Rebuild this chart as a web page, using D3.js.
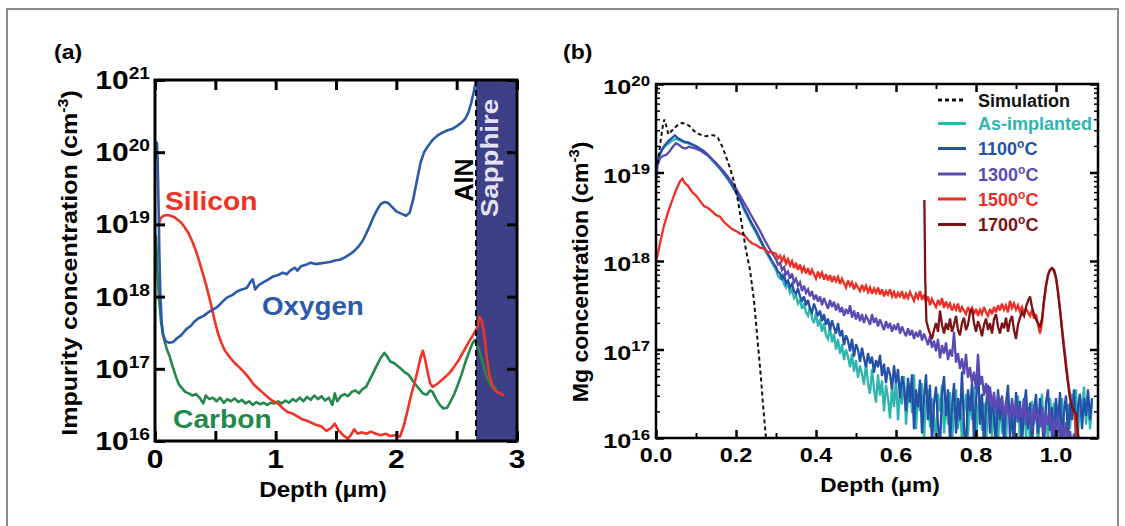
<!DOCTYPE html>
<html>
<head>
<meta charset="utf-8">
<script src="https://cdn.jsdelivr.net/npm/d3@7"></script>
<style>
body{margin:0;background:#fff;}
svg text{font-family:"Liberation Sans",Arial,Helvetica,sans-serif;font-weight:bold;}
</style>
</head>
<body>
<div id="chart"></div>
<script>
// ---- panel (a): [depth um, log10 concentration] ----
var oxygenA = [[0.008,19.9],[0.016,20.13],[0.022,19.9],[0.030,19.2],[0.036,18.6],[0.045,18.0],[0.055,17.65],[0.07,17.45],[0.09,17.38],[0.12,17.36],[0.15,17.37],[0.18,17.42],[0.22,17.47],[0.26,17.55],[0.30,17.6],[0.33,17.66],[0.36,17.7],[0.40,17.73],[0.44,17.78],[0.48,17.82],[0.52,17.86],[0.56,17.93],[0.60,17.99],[0.64,18.02],[0.68,18.07],[0.72,18.1],[0.76,18.12],[0.79,18.2],[0.81,18.24],[0.83,18.1],[0.86,18.16],[0.90,18.2],[0.94,18.24],[0.98,18.28],[1.02,18.3],[1.06,18.33],[1.09,18.31],[1.12,18.36],[1.16,18.4],[1.18,18.36],[1.21,18.42],[1.25,18.44],[1.29,18.47],[1.33,18.45],[1.37,18.46],[1.41,18.47],[1.45,18.48],[1.49,18.5],[1.53,18.51],[1.57,18.54],[1.61,18.58],[1.65,18.63],[1.69,18.7],[1.72,18.77],[1.75,18.87],[1.78,18.98],[1.81,19.1],[1.84,19.2],[1.87,19.28],[1.90,19.31],[1.93,19.3],[1.96,19.25],[2.00,19.18],[2.04,19.15],[2.08,19.12],[2.11,19.16],[2.14,19.35],[2.17,19.6],[2.20,19.85],[2.23,20.0],[2.26,20.08],[2.30,20.17],[2.34,20.23],[2.38,20.27],[2.42,20.3],[2.46,20.32],[2.50,20.36],[2.54,20.41],[2.57,20.46],[2.60,20.56],[2.62,20.68],[2.64,20.82],[2.66,21.0]];
var siliconA = [[0.030,19.0],[0.045,19.08],[0.07,19.12],[0.10,19.13],[0.13,19.12],[0.16,19.1],[0.19,19.06],[0.22,19.02],[0.25,18.95],[0.28,18.87],[0.31,18.76],[0.34,18.63],[0.37,18.47],[0.40,18.3],[0.43,18.12],[0.46,17.92],[0.49,17.7],[0.52,17.5],[0.55,17.36],[0.58,17.25],[0.62,17.16],[0.66,17.08],[0.70,17.02],[0.74,16.95],[0.78,16.87],[0.82,16.78],[0.86,16.72],[0.90,16.66],[0.94,16.6],[0.98,16.55],[1.02,16.52],[1.06,16.45],[1.10,16.4],[1.14,16.38],[1.18,16.34],[1.22,16.3],[1.26,16.28],[1.30,16.25],[1.34,16.22],[1.38,16.2],[1.42,16.14],[1.46,16.18],[1.49,16.24],[1.52,16.15],[1.56,16.08],[1.60,16.03],[1.63,16.1],[1.65,16.16],[1.68,16.1],[1.71,16.12],[1.75,16.1],[1.79,16.13],[1.83,16.1],[1.87,16.08],[1.91,16.1],[1.95,16.07],[1.99,16.08],[2.03,16.06],[2.06,16.2],[2.09,16.4],[2.12,16.62],[2.15,16.8],[2.18,17.0],[2.20,17.15],[2.22,17.25],[2.24,17.12],[2.26,16.95],[2.28,16.8],[2.30,16.75],[2.33,16.78],[2.36,16.82],[2.40,16.88],[2.44,16.94],[2.48,17.03],[2.52,17.13],[2.56,17.25],[2.60,17.37],[2.64,17.48],[2.67,17.57],[2.69,17.72],[2.71,17.65],[2.73,17.45],[2.75,17.15],[2.77,16.92],[2.80,16.75],[2.83,16.68],[2.86,16.66],[2.89,16.63]];
var carbonA = [[0.008,18.85],[0.014,18.6],[0.02,18.35],[0.03,18.05],[0.04,17.85],[0.05,17.65],[0.065,17.48],[0.08,17.38],[0.10,17.26],[0.12,17.18],[0.14,17.06],[0.16,16.96],[0.18,16.86],[0.20,16.78],[0.22,16.74],[0.25,16.68],[0.28,16.66],[0.31,16.63],[0.34,16.65],[0.37,16.6],[0.40,16.52],[0.42,16.63],[0.45,16.58],[0.48,16.6],[0.51,16.55],[0.54,16.6],[0.57,16.53],[0.60,16.58],[0.63,16.55],[0.66,16.59],[0.69,16.54],[0.72,16.57],[0.75,16.52],[0.78,16.55],[0.81,16.5],[0.84,16.54],[0.87,16.51],[0.90,16.53],[0.93,16.5],[0.96,16.53],[0.99,16.52],[1.02,16.55],[1.05,16.52],[1.08,16.56],[1.11,16.53],[1.14,16.58],[1.17,16.55],[1.20,16.6],[1.23,16.55],[1.26,16.61],[1.29,16.57],[1.32,16.63],[1.35,16.58],[1.38,16.62],[1.41,16.56],[1.44,16.6],[1.47,16.5],[1.49,16.66],[1.51,16.55],[1.54,16.62],[1.57,16.65],[1.60,16.62],[1.63,16.68],[1.66,16.7],[1.69,16.66],[1.72,16.72],[1.75,16.75],[1.78,16.85],[1.81,16.95],[1.84,17.05],[1.87,17.15],[1.90,17.22],[1.92,17.18],[1.95,17.1],[1.98,17.08],[2.01,17.04],[2.04,17.0],[2.07,16.95],[2.10,16.92],[2.13,16.85],[2.16,16.78],[2.19,16.72],[2.22,16.66],[2.25,16.64],[2.28,16.7],[2.30,16.68],[2.33,16.58],[2.36,16.5],[2.39,16.45],[2.42,16.46],[2.45,16.55],[2.48,16.65],[2.51,16.78],[2.54,16.92],[2.57,17.08],[2.60,17.22],[2.63,17.35],[2.65,17.4],[2.67,17.33],[2.69,17.25],[2.71,17.12],[2.73,17.0],[2.75,16.88],[2.77,16.82],[2.79,16.76],[2.81,16.72],[2.83,16.74]];
var aInterface = 2.66;          // AlN / sapphire boundary (um)
var aXTicks = [0, 1, 2, 3];
var aXMinor = [0.5, 1.5, 2.5];
var aYDecades = [16, 17, 18, 19, 20, 21];

// ---- panel (b): [depth um, log10 concentration] ----
var simulationB = [[0.004,19.1],[0.010,19.3],[0.016,19.5],[0.021,19.6],[0.026,19.52],[0.031,19.43],[0.037,19.46],[0.045,19.5],[0.055,19.54],[0.065,19.56],[0.075,19.55],[0.085,19.52],[0.095,19.47],[0.105,19.44],[0.115,19.42],[0.125,19.41],[0.135,19.42],[0.145,19.42],[0.155,19.39],[0.165,19.3],[0.175,19.18],[0.185,19.05],[0.195,18.9],[0.205,18.68],[0.215,18.4],[0.225,18.12],[0.235,17.9],[0.245,17.55],[0.255,17.05],[0.262,16.7],[0.268,16.35],[0.275,16.0]];
var asImplB = [[0.000,19.12],[0.008,19.2],[0.016,19.26],[0.024,19.3],[0.032,19.33],[0.040,19.36],[0.050,19.38],[0.060,19.36],[0.070,19.34],[0.080,19.33],[0.090,19.31],[0.100,19.29],[0.110,19.26],[0.120,19.23],[0.130,19.19],[0.140,19.14],[0.150,19.09],[0.160,19.04],[0.170,18.98],[0.180,18.92],[0.190,18.85],[0.200,18.77],[0.210,18.68],[0.220,18.58],[0.230,18.49],[0.240,18.4],[0.250,18.32],[0.260,18.23],[0.270,18.14],[0.280,18.06],[0.290,17.98],
  [0.300,17.90],[0.305,17.83],[0.310,17.80],[0.315,17.84],[0.320,17.74],[0.325,17.70],[0.330,17.76],[0.335,17.64],[0.340,17.68],[0.345,17.58],[0.350,17.62],[0.355,17.52],[0.360,17.56],[0.365,17.46],[0.370,17.52],[0.375,17.42],[0.380,17.38],[0.385,17.48],[0.390,17.35],[0.395,17.30],[0.400,17.42],[0.405,17.26],[0.410,17.34],[0.415,17.20],[0.420,17.30],[0.425,17.16],[0.430,17.12],[0.435,17.25],[0.440,17.08],[0.445,17.18],[0.450,17.00],[0.455,17.12],[0.460,16.95],[0.465,17.06],[0.470,16.88],[0.475,17.00],[0.480,16.92],[0.485,16.80],[0.490,16.95],[0.495,16.75],[0.500,16.88],[0.505,16.68],[0.510,16.82],[0.515,16.72],[0.520,16.60],[0.525,16.85],[0.530,16.62],[0.535,16.50],[0.540,16.78],[0.545,16.55],[0.550,16.40],[0.555,16.72],[0.560,16.48],[0.565,16.65],[0.570,16.30],[0.575,16.60],[0.580,16.45],[0.585,16.22],[0.590,16.58],[0.595,16.35],[0.600,16.68],[0.605,16.20],[0.610,16.52],[0.615,16.38],[0.620,16.70],[0.625,16.15],[0.630,16.45],[0.635,16.62],[0.640,16.28],[0.645,16.72],[0.650,16.10],[0.655,16.48],[0.660,16.30],[0.665,16.62],[0.670,16.00],[0.675,16.40],[0.680,16.55],[0.685,16.12],[0.690,16.45],[0.695,16.25],[0.700,15.95],[0.705,16.50],[0.710,16.30],[0.715,16.60],[0.720,16.05],[0.725,16.40],[0.730,16.15],[0.735,16.52],[0.740,15.92],[0.745,16.35],[0.750,16.55],[0.755,16.10],[0.760,16.42],[0.765,15.95],[0.770,16.30],[0.775,16.50],[0.780,16.02],[0.785,16.45],[0.790,16.20],[0.795,16.58],[0.800,15.90],[0.805,16.35],[0.810,16.48],[0.815,16.08],[0.820,16.40],[0.825,15.95],[0.830,16.30],[0.835,16.52],[0.840,16.00],[0.845,16.38],[0.850,16.15],[0.855,15.90],[0.860,16.45],[0.865,16.05],[0.870,16.35],[0.875,15.92],[0.880,16.50],[0.885,16.20],[0.890,16.40],[0.895,15.95],[0.900,16.30],[0.905,16.48],[0.910,15.90],[0.915,16.25],[0.920,16.45],[0.925,16.00],[0.930,16.35],[0.935,15.92],[0.940,16.42],[0.945,16.15],[0.950,16.38],[0.955,15.90],[0.960,16.30],[0.965,16.50],[0.970,16.05],[0.975,16.35],[0.980,15.95],[0.985,16.45],[0.990,16.20],[0.995,16.40],[1.000,15.90],[1.005,16.32],[1.010,16.05],[1.015,16.45],[1.020,16.15],[1.025,15.92],[1.030,16.38],[1.035,16.10],[1.040,16.50],[1.045,16.25],[1.050,16.55],[1.055,16.05],[1.060,16.45],[1.065,16.30],[1.070,16.58],[1.075,16.15],[1.080,16.48],[1.085,16.10],[1.090,16.40]];
var t1100B = [[0.000,19.05],[0.008,19.18],[0.016,19.27],[0.024,19.32],[0.032,19.36],[0.040,19.39],[0.047,19.42],[0.054,19.39],[0.062,19.37],[0.070,19.35],[0.080,19.34],[0.090,19.32],[0.100,19.3],[0.110,19.27],[0.120,19.24],[0.130,19.2],[0.140,19.15],[0.150,19.1],[0.160,19.05],[0.170,18.99],[0.180,18.93],[0.190,18.86],[0.200,18.78],[0.210,18.7],[0.220,18.6],[0.230,18.51],[0.240,18.42],[0.250,18.34],[0.260,18.25],[0.270,18.16],[0.280,18.08],[0.290,18.0],
  [0.300,17.93],[0.305,17.88],[0.310,17.86],[0.315,17.80],[0.320,17.84],[0.325,17.75],[0.330,17.78],[0.335,17.70],[0.340,17.74],[0.345,17.66],[0.350,17.63],[0.355,17.69],[0.360,17.60],[0.365,17.55],[0.370,17.60],[0.375,17.50],[0.380,17.56],[0.385,17.46],[0.390,17.42],[0.395,17.52],[0.400,17.45],[0.405,17.38],[0.410,17.44],[0.415,17.32],[0.420,17.40],[0.425,17.28],[0.430,17.35],[0.435,17.22],[0.440,17.33],[0.445,17.25],[0.450,17.18],[0.455,17.30],[0.460,17.15],[0.465,17.22],[0.470,17.05],[0.475,17.16],[0.480,17.10],[0.485,16.98],[0.490,17.12],[0.495,16.92],[0.500,17.06],[0.505,17.00],[0.510,16.86],[0.515,17.02],[0.520,16.90],[0.525,16.80],[0.530,16.96],[0.535,16.84],[0.540,16.92],[0.545,16.74],[0.550,16.88],[0.555,16.80],[0.560,16.94],[0.565,16.70],[0.570,16.84],[0.575,16.62],[0.580,16.80],[0.585,16.72],[0.590,16.55],[0.595,16.82],[0.600,16.62],[0.605,16.78],[0.610,16.45],[0.615,16.70],[0.620,16.58],[0.625,16.30],[0.630,16.68],[0.635,16.40],[0.640,16.72],[0.645,16.10],[0.650,16.55],[0.655,16.35],[0.660,16.66],[0.665,16.05],[0.670,16.45],[0.675,16.72],[0.680,16.20],[0.685,16.60],[0.690,15.92],[0.695,16.40],[0.700,16.58],[0.705,16.15],[0.710,15.90],[0.715,16.50],[0.720,16.70],[0.725,16.25],[0.730,16.55],[0.735,15.95],[0.740,16.35],[0.745,16.62],[0.750,16.05],[0.755,16.45],[0.760,16.20],[0.765,16.75],[0.770,16.10],[0.775,15.90],[0.780,16.55],[0.785,16.30],[0.790,16.62],[0.795,15.95],[0.800,16.40],[0.805,16.85],[0.810,16.15],[0.815,16.50],[0.820,15.90],[0.825,16.35],[0.830,16.60],[0.835,16.05],[0.840,16.45],[0.845,16.25],[0.850,15.90],[0.855,16.55],[0.860,16.20],[0.865,16.48],[0.870,15.95],[0.875,16.38],[0.880,16.60],[0.885,16.00],[0.890,16.30],[0.895,15.90],[0.900,16.52],[0.905,16.18],[0.910,16.42],[0.915,15.92],[0.920,16.35],[0.925,16.55],[0.930,16.10],[0.935,16.40],[0.940,15.90],[0.945,16.28],[0.950,16.50],[0.955,16.05],[0.960,16.45],[0.965,16.20],[0.970,15.90],[0.975,16.40],[0.980,16.55],[0.985,16.08],[0.990,16.35],[0.995,15.92],[1.000,16.45],[1.005,16.15],[1.010,16.52],[1.015,15.95],[1.020,16.30],[1.025,16.48],[1.030,16.02],[1.035,16.40],[1.040,16.20],[1.045,16.55],[1.050,15.95],[1.055,16.35],[1.060,16.50],[1.065,16.10],[1.070,16.45],[1.075,16.25],[1.080,16.55],[1.085,16.20],[1.090,16.45]];
var t1300B = [[0.000,18.85],[0.004,19.08],[0.010,19.16],[0.018,19.19],[0.026,19.2],[0.034,19.24],[0.042,19.29],[0.050,19.33],[0.058,19.31],[0.066,19.28],[0.074,19.27],[0.082,19.29],[0.090,19.28],[0.100,19.27],[0.110,19.25],[0.120,19.22],[0.130,19.19],[0.140,19.15],[0.150,19.11],[0.160,19.06],[0.170,19.01],[0.180,18.95],[0.190,18.89],[0.200,18.82],[0.210,18.74],[0.220,18.66],[0.230,18.58],[0.240,18.5],[0.250,18.42],[0.260,18.34],[0.270,18.25],[0.280,18.17],[0.290,18.09],
  [0.300,18.02],[0.305,17.96],[0.310,17.98],[0.315,17.90],[0.320,17.93],[0.325,17.85],[0.330,17.88],[0.335,17.80],[0.340,17.86],[0.345,17.76],[0.350,17.80],[0.355,17.72],[0.360,17.76],[0.365,17.66],[0.370,17.72],[0.375,17.64],[0.380,17.68],[0.385,17.60],[0.390,17.66],[0.395,17.56],[0.400,17.62],[0.405,17.54],[0.410,17.60],[0.415,17.50],[0.420,17.58],[0.425,17.52],[0.430,17.46],[0.435,17.56],[0.440,17.48],[0.445,17.54],[0.450,17.44],[0.455,17.52],[0.460,17.42],[0.465,17.48],[0.470,17.38],[0.475,17.46],[0.480,17.40],[0.485,17.50],[0.490,17.36],[0.495,17.44],[0.500,17.34],[0.505,17.42],[0.510,17.32],[0.515,17.40],[0.520,17.30],[0.525,17.38],[0.530,17.34],[0.535,17.28],[0.540,17.40],[0.545,17.30],[0.550,17.36],[0.555,17.26],[0.560,17.34],[0.565,17.28],[0.570,17.22],[0.575,17.32],[0.580,17.24],[0.585,17.30],[0.590,17.20],[0.595,17.28],[0.600,17.22],[0.605,17.30],[0.610,17.18],[0.615,17.26],[0.620,17.20],[0.625,17.15],[0.630,17.24],[0.635,17.16],[0.640,17.22],[0.645,17.12],[0.650,17.20],[0.655,17.14],[0.660,17.22],[0.665,17.10],[0.670,17.18],[0.675,17.12],[0.680,17.05],[0.685,17.15],[0.690,17.02],[0.695,17.10],[0.700,16.98],[0.705,17.12],[0.710,16.90],[0.715,17.05],[0.720,16.95],[0.725,17.08],[0.730,16.88],[0.735,17.00],[0.740,16.92],[0.745,17.20],[0.750,16.85],[0.755,16.96],[0.760,16.78],[0.765,16.90],[0.770,16.72],[0.775,16.95],[0.780,16.68],[0.785,16.80],[0.790,16.62],[0.795,16.75],[0.800,16.55],[0.805,16.95],[0.810,16.60],[0.815,16.70],[0.820,16.48],[0.825,16.62],[0.830,16.40],[0.835,16.58],[0.840,16.35],[0.845,16.52],[0.850,16.28],[0.855,16.50],[0.860,16.32],[0.865,16.45],[0.870,16.22],[0.875,16.42],[0.880,16.30],[0.885,16.20],[0.890,16.45],[0.895,16.25],[0.900,16.40],[0.905,16.18],[0.910,16.35],[0.915,16.22],[0.920,16.45],[0.925,16.15],[0.930,16.32],[0.935,16.25],[0.940,16.10],[0.945,16.38],[0.950,16.20],[0.955,16.30],[0.960,16.12],[0.965,16.35],[0.970,16.05],[0.975,16.28],[0.980,16.15],[0.985,16.32],[0.990,16.00],[0.995,16.22],[1.000,16.08],[1.005,16.25],[1.010,15.95],[1.015,16.15],[1.020,16.02],[1.025,16.18],[1.030,15.92],[1.035,16.08],[1.040,15.90],[1.045,16.05],[1.050,15.90]];
var t1500B = [[0.000,17.99],[0.010,18.2],[0.020,18.4],[0.030,18.55],[0.040,18.68],[0.050,18.8],[0.060,18.9],[0.066,18.93],[0.072,18.88],[0.080,18.85],[0.090,18.78],[0.100,18.74],[0.110,18.68],[0.120,18.62],[0.130,18.6],[0.140,18.56],[0.150,18.52],[0.160,18.5],[0.170,18.44],[0.180,18.4],[0.190,18.36],[0.200,18.34],[0.210,18.31],[0.220,18.3],[0.230,18.24],[0.240,18.2],[0.250,18.18],[0.260,18.15],[0.270,18.14],[0.280,18.1],[0.290,18.1],
  [0.300,18.08],[0.305,18.03],[0.310,18.06],[0.315,18.00],[0.320,18.05],[0.325,17.97],[0.330,18.02],[0.335,17.95],[0.340,18.00],[0.345,17.92],[0.350,17.98],[0.355,17.90],[0.360,17.96],[0.365,17.88],[0.370,17.93],[0.375,17.86],[0.380,17.92],[0.385,17.84],[0.390,17.90],[0.395,17.85],[0.400,17.80],[0.405,17.88],[0.410,17.82],[0.415,17.87],[0.420,17.79],[0.425,17.85],[0.430,17.78],[0.435,17.84],[0.440,17.76],[0.445,17.83],[0.450,17.77],[0.455,17.82],[0.460,17.74],[0.465,17.80],[0.470,17.75],[0.475,17.70],[0.480,17.78],[0.485,17.72],[0.490,17.76],[0.495,17.68],[0.500,17.74],[0.505,17.70],[0.510,17.66],[0.515,17.73],[0.520,17.67],[0.525,17.72],[0.530,17.65],[0.535,17.70],[0.540,17.63],[0.545,17.69],[0.550,17.64],[0.555,17.70],[0.560,17.62],[0.565,17.68],[0.570,17.60],[0.575,17.66],[0.580,17.62],[0.585,17.68],[0.590,17.60],[0.595,17.65],[0.600,17.58],[0.605,17.64],[0.610,17.60],[0.615,17.66],[0.620,17.57],[0.625,17.63],[0.630,17.58],[0.635,17.65],[0.640,17.60],[0.645,17.55],[0.650,17.63],[0.655,17.58],[0.660,17.66],[0.665,17.56],[0.670,17.62],[0.675,17.54],[0.680,17.60],[0.685,17.50],[0.690,17.57],[0.695,17.52],[0.700,17.48],[0.705,17.56],[0.710,17.50],[0.715,17.58],[0.720,17.47],[0.725,17.54],[0.730,17.48],[0.735,17.52],[0.740,17.44],[0.745,17.50],[0.750,17.45],[0.755,17.52],[0.760,17.42],[0.765,17.48],[0.770,17.44],[0.775,17.40],[0.780,17.48],[0.785,17.42],[0.790,17.47],[0.795,17.40],[0.800,17.46],[0.805,17.38],[0.810,17.45],[0.815,17.40],[0.820,17.48],[0.825,17.42],[0.830,17.38],[0.835,17.46],[0.840,17.40],[0.845,17.48],[0.850,17.42],[0.855,17.50],[0.860,17.44],[0.865,17.52],[0.870,17.45],[0.875,17.50],[0.880,17.42],[0.885,17.55],[0.890,17.47],[0.895,17.52],[0.900,17.45],[0.905,17.50],[0.910,17.43],[0.915,17.48],[0.920,17.40],[0.925,17.46],[0.930,17.42],[0.935,17.38],[0.940,17.45],[0.945,17.35],[0.950,17.40],[0.955,17.28],[0.960,17.18],[0.965,17.30],[0.970,17.55],[0.975,17.72],[0.980,17.84],[0.985,17.90],[0.990,17.92],[0.995,17.88],[1.000,17.80],[1.005,17.65],[1.010,17.45],[1.015,17.25],[1.020,17.05],[1.025,16.85],[1.030,16.65],[1.035,16.48],[1.040,16.35],[1.045,16.30],[1.050,16.12],[1.055,15.95]];
var t1700B = [[0.671,18.69],[0.673,17.8],[0.676,17.32],[0.680,17.25],[0.685,17.18],[0.690,17.12],[0.695,17.22],[0.700,17.30],[0.705,17.20],[0.710,17.44],[0.715,17.28],[0.720,17.18],[0.725,17.30],[0.730,17.22],[0.735,17.35],[0.740,17.20],[0.745,17.28],[0.750,17.38],[0.755,17.22],[0.760,17.16],[0.765,17.30],[0.770,17.36],[0.775,17.22],[0.780,17.28],[0.785,17.42],[0.790,17.46],[0.795,17.30],[0.800,17.20],[0.805,17.32],[0.810,17.25],[0.815,17.15],[0.820,17.28],[0.825,17.35],[0.830,17.22],[0.835,17.30],[0.840,17.18],[0.845,17.34],[0.850,17.40],[0.855,17.26],[0.860,17.18],[0.865,17.30],[0.870,17.24],[0.875,17.36],[0.880,17.20],[0.885,17.32],[0.890,17.38],[0.895,17.22],[0.900,17.12],[0.905,17.28],[0.910,17.36],[0.915,17.42],[0.920,17.38],[0.925,17.48],[0.930,17.55],[0.935,17.60],[0.940,17.48],[0.945,17.40],[0.950,17.34],[0.955,17.30],[0.960,17.25],[0.965,17.35],[0.970,17.55],[0.975,17.72],[0.980,17.84],[0.985,17.90],[0.990,17.92],[0.995,17.90],[1.000,17.82],[1.005,17.65],[1.010,17.45],[1.015,17.22],[1.020,17.0],[1.025,16.8],[1.030,16.62],[1.035,16.45],[1.040,16.35],[1.045,16.30],[1.050,16.28],[1.055,16.05],[1.060,15.9]];
var bNames = ["Simulation", "As-implanted", "1100°C", "1300°C", "1500°C", "1700°C"];
var bXTicks = [0, 0.2, 0.4, 0.6, 0.8, 1.0];
var bXMinor = [0.1, 0.3, 0.5, 0.7, 0.9];
var bYDecades = [16, 17, 18, 19, 20];

var W = 1125, H = 526;
var svg = d3.select("#chart").append("svg").attr("width", W).attr("height", H);

// outer figure border
svg.append("rect").attr("x", 7).attr("y", 9).attr("width", 1111).attr("height", 540)
  .attr("fill", "none").attr("stroke", "#8c8c8c").attr("stroke-width", 2);

function addText(g, x, y, parts, o) {
  o = o || {};
  var tr = "translate(" + x + "," + y + ")";
  if (o.rotate) tr += " rotate(" + o.rotate + ")";
  tr += " scale(" + (o.sx || 1) + ",1)";
  var t = g.append("text")
    .attr("transform", tr)
    .attr("text-anchor", o.anchor || "start")
    .attr("font-size", o.size)
    .attr("fill", o.color || "#000");
  if (typeof parts === "string") parts = [[parts]];
  parts.forEach(function(p, i) {
    var ts = t.append("tspan").text(p[0]);
    if (p[1] === "sup") ts.attr("font-size", o.supSize).attr("dy", -o.supRise);
    else if (i > 0 && parts[i - 1][1] === "sup") ts.attr("dy", o.supRise);
  });
  return t;
}

function tempParts(name) {
  if (name.slice(-2) === "°C") return [[name.slice(0, -2)], ["o", "sup"], ["C"]];
  return [[name]];
}

function tickLines(g, sw) {
  g.select(".domain").remove();
  g.selectAll("line").attr("stroke", "#000").attr("stroke-width", sw);
}

// ================= panel (a) =================
var xa = d3.scaleLinear().domain([0, 3]).range([155, 517]);
var ya = d3.scaleLog().domain([1e16, 1e21]).range([441, 80]);
var pa = svg.append("g");

pa.append("clipPath").attr("id", "clipA").append("rect")
  .attr("x", xa(0)).attr("y", ya(1e21)).attr("width", xa(3) - xa(0)).attr("height", ya(1e16) - ya(1e21));

pa.append("rect")
  .attr("x", xa(aInterface)).attr("y", ya(1e21))
  .attr("width", xa(3) - xa(aInterface)).attr("height", ya(1e16) - ya(1e21))
  .attr("fill", "#3e4087");

var lineA = d3.line().x(function(d) { return xa(d[0]); }).y(function(d) { return ya(Math.pow(10, d[1])); });
var curvesA = pa.append("g").attr("clip-path", "url(#clipA)");
[[carbonA, "#22894a"], [siliconA, "#ee3427"], [oxygenA, "#2a5aa9"]].forEach(function(s) {
  curvesA.append("path").datum(s[0]).attr("d", lineA)
    .attr("fill", "none").attr("stroke", s[1]).attr("stroke-width", 2.6).attr("stroke-linejoin", "round");
});

pa.append("line")
  .attr("x1", xa(aInterface)).attr("x2", xa(aInterface))
  .attr("y1", ya(1e21)).attr("y2", ya(1e16))
  .attr("stroke", "#000").attr("stroke-width", 2).attr("stroke-dasharray", "6,4");

var aDecVals = aYDecades.map(function(e) { return Math.pow(10, e); });
pa.append("g").attr("transform", "translate(0," + ya(1e16) + ")")
  .call(d3.axisBottom(xa).tickValues(aXTicks.concat(aXMinor)).tickSize(-10).tickFormat(""))
  .call(tickLines, 3);
pa.append("g").attr("transform", "translate(0," + ya(1e21) + ")")
  .call(d3.axisTop(xa).tickValues(aXTicks.concat(aXMinor)).tickSize(-10).tickFormat(""))
  .call(tickLines, 3);
pa.append("g").attr("transform", "translate(" + xa(0) + ",0)")
  .call(d3.axisLeft(ya).tickValues(aDecVals).tickSize(-10).tickFormat(""))
  .call(tickLines, 3);
pa.append("g").attr("transform", "translate(" + xa(3) + ",0)")
  .call(d3.axisRight(ya).tickValues(aDecVals).tickSize(-10).tickFormat(""))
  .call(tickLines, 3);

pa.append("rect")
  .attr("x", xa(0)).attr("y", ya(1e21)).attr("width", xa(3) - xa(0)).attr("height", ya(1e16) - ya(1e21))
  .attr("fill", "none").attr("stroke", "#000").attr("stroke-width", 3);

aYDecades.forEach(function(e) {
  addText(pa, xa(0) - 5, ya(Math.pow(10, e)) + 9, [["10"], [String(e), "sup"]],
    { size: 25, supSize: 16, supRise: 10, anchor: "end", sx: 1.2 });
});
aXTicks.forEach(function(v) {
  addText(pa, xa(v), 468, String(v), { size: 25, anchor: "middle", sx: 1.2 });
});
addText(pa, 323, 497, "Depth (μm)", { size: 22, anchor: "middle", sx: 1.1 });
addText(pa, 77, 263, [["Impurity concentration (cm"], ["-3", "sup"], [")"]],
  { size: 22, supSize: 14, supRise: 9, anchor: "middle", rotate: -90, sx: 1.14 });
addText(pa, 54, 59, "(a)", { size: 20, sx: 1.15 });
addText(pa, 165, 210, "Silicon", { size: 25, color: "#ee3427", sx: 1.13 });
addText(pa, 262, 315, "Oxygen", { size: 25, color: "#2a5aa9", sx: 1.11 });
addText(pa, 173, 428, "Carbon", { size: 25, color: "#22894a", sx: 1.13 });
addText(pa, 473, 180, "AlN", { size: 25, anchor: "middle", rotate: -90 });
addText(pa, 498, 158, "Sapphire", { size: 24, anchor: "middle", rotate: -90, color: "#e2e2f2", sx: 1.15 });

// ================= panel (b) =================
var xb = d3.scaleLinear().domain([0, 1.105]).range([656, 1098]);
var yb = d3.scaleLog().domain([1e16, 1e20]).range([438, 84]);
var pb = svg.append("g");

pb.append("clipPath").attr("id", "clipB").append("rect")
  .attr("x", xb(0)).attr("y", yb(1e20)).attr("width", xb(1.105) - xb(0)).attr("height", yb(1e16) - yb(1e20));

var lineB = d3.line().x(function(d) { return xb(d[0]); }).y(function(d) { return yb(Math.pow(10, d[1])); });
var bSeries = [
  { data: simulationB, color: "#111111", dash: "4,3" },
  { data: asImplB, color: "#2eb6ae" },
  { data: t1100B, color: "#2550a8" },
  { data: t1300B, color: "#5b4ab2" },
  { data: t1500B, color: "#ef2d24" },
  { data: t1700B, color: "#7c1216" }
];
var curvesB = pb.append("g").attr("clip-path", "url(#clipB)");
[1, 2, 3, 4, 5, 0].forEach(function(i) {
  var s = bSeries[i];
  curvesB.append("path").datum(s.data).attr("d", lineB)
    .attr("fill", "none").attr("stroke", s.color).attr("stroke-width", s.dash ? 2 : 2.3)
    .attr("stroke-linejoin", "miter").attr("stroke-miterlimit", 3)
    .attr("stroke-dasharray", s.dash || null);
});

var bDecVals = bYDecades.map(function(e) { return Math.pow(10, e); });
var bMinorY = yb.ticks().filter(function(v) { return Math.abs(Math.log10(v) % 1) > 1e-6; });
[["bottom", yb(1e16)], ["top", yb(1e20)]].forEach(function(s) {
  var ax = s[0] === "bottom" ? d3.axisBottom : d3.axisTop;
  pb.append("g").attr("transform", "translate(0," + s[1] + ")")
    .call(ax(xb).tickValues(bXTicks).tickSize(-8).tickFormat("")).call(tickLines, 2.5);
  pb.append("g").attr("transform", "translate(0," + s[1] + ")")
    .call(ax(xb).tickValues(bXMinor).tickSize(-5).tickFormat("")).call(tickLines, 2);
});
[["left", xb(0)], ["right", xb(1.105)]].forEach(function(s) {
  var ax = s[0] === "left" ? d3.axisLeft : d3.axisRight;
  pb.append("g").attr("transform", "translate(" + s[1] + ",0)")
    .call(ax(yb).tickValues(bDecVals).tickSize(-8).tickFormat("")).call(tickLines, 2.5);
  pb.append("g").attr("transform", "translate(" + s[1] + ",0)")
    .call(ax(yb).tickValues(bMinorY).tickSize(-4).tickFormat("")).call(tickLines, 1.5);
});

pb.append("rect")
  .attr("x", xb(0)).attr("y", yb(1e20)).attr("width", xb(1.105) - xb(0)).attr("height", yb(1e16) - yb(1e20))
  .attr("fill", "none").attr("stroke", "#000").attr("stroke-width", 2.5);

bYDecades.forEach(function(e) {
  addText(pb, xb(0) - 6, yb(Math.pow(10, e)) + 10, [["10"], [String(e), "sup"]],
    { size: 21, supSize: 14, supRise: 8.5, anchor: "end", sx: 1.2 });
});
bXTicks.forEach(function(v) {
  addText(pb, xb(v), 462, v.toFixed(1), { size: 21, anchor: "middle", sx: 1.12 });
});
addText(pb, 880, 492, "Depth (μm)", { size: 21, anchor: "middle", sx: 1.08 });
addText(pb, 588, 272, [["Mg concentration (cm"], ["-3", "sup"], [")"]],
  { size: 22, supSize: 14, supRise: 9, anchor: "middle", rotate: -90, sx: 1.05 });
addText(pb, 563, 59, "(b)", { size: 20, sx: 1.15 });

// legend
var legY = [100, 123.5, 148.5, 174, 199, 224.5];
bNames.forEach(function(name, i) {
  var s = bSeries[i];
  pb.append("line").attr("x1", 938).attr("x2", 966).attr("y1", legY[i]).attr("y2", legY[i])
    .attr("stroke", s.color).attr("stroke-width", 3).attr("stroke-dasharray", s.dash || null);
  addText(pb, 978, legY[i] + 6.5, tempParts(name),
    { size: 18, supSize: 12, supRise: 7, color: s.color });
});
</script>
</body>
</html>
